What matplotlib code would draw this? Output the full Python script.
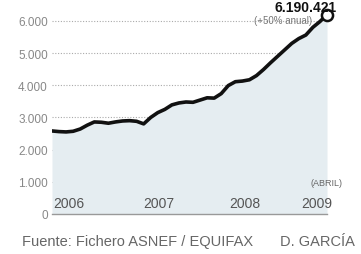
import matplotlib
matplotlib.use("Agg")
import matplotlib.pyplot as plt
from matplotlib.ticker import FuncFormatter

# Monthly values Jan 2006 (0) .. Apr 2009 (39)
months = list(range(40))
values = [2580, 2560, 2550, 2570, 2640, 2760, 2860, 2850, 2820, 2860,
          2890, 2900, 2880, 2800, 3000, 3150, 3250, 3390, 3450, 3480,
          3470, 3540, 3610, 3600, 3740, 3990, 4110, 4130, 4170, 4300,
          4490, 4700, 4900, 5100, 5300, 5450, 5560, 5800, 5980, 6190]
yticks = [0, 1000, 2000, 3000, 4000, 5000, 6000]
year_labels = ["2006", "2007", "2008", "2009"]
year_pos = [0.15, 12.9, 25.2, 35.4]
headline = "6.190.421"
subhead = "(+50% anual)"
end_note = "(ABRIL)"
footer_left = "Fuente: Fichero ASNEF / EQUIFAX"
footer_right = "D. GARCÍA"

plt.rcParams['font.family'] = ["Liberation Sans", "DejaVu Sans"]

W, H = 361, 255
fig = plt.figure(figsize=(W/100, H/100), dpi=100)
ax = fig.add_axes([52/W, 1-215/H, 275/W, 206/H])
ax.set_xlim(0, 39)
ax.set_ylim(0, 6400)

ax.fill_between(months, values, 0, color="#e5edf1", lw=0, zorder=1)
for t in yticks[1:]:
    ax.axhline(t, color="#aaaaaa", lw=0.8, ls=(0, (1, 1.5)), zorder=0.5)
ax.plot(months, values, color="#111111", lw=2.6, solid_joinstyle="round", zorder=3)
ax.plot([months[-1]], [values[-1]], 'o', ms=8, mfc="white", mec="#111111", mew=1.8,
        zorder=4, clip_on=False)

for s in ["top", "right", "left"]:
    ax.spines[s].set_visible(False)
ax.spines["bottom"].set_color("#999999")
ax.spines["bottom"].set_linewidth(1.0)
ax.set_xticks([])
ax.set_yticks(yticks)
ax.yaxis.set_major_formatter(FuncFormatter(lambda v, p: f"{int(v):,}".replace(",", ".")))
ax.tick_params(axis="y", length=0, pad=3, labelsize=8.5, labelcolor="#888888")

for lab, xp in zip(year_labels, year_pos):
    ax.text(xp, 120, lab, ha="left", va="bottom", fontsize=10, color="#555555", zorder=5)
ax.text(41.2, 840, end_note, ha="right", va="bottom", fontsize=6.5, color="#666666",
        zorder=5, clip_on=False)

fig.text(312/W, 1-21/H, subhead, ha="right", va="center", fontsize=7, color="#777777")
fig.text(337/W, 1-0.5/H, headline, ha="right", va="top", fontsize=10,
         fontweight="bold", color="#111111")
fig.text(22/W, 1-242/H, footer_left, ha="left", va="center", fontsize=10.5, color="#666666")
fig.text(280/W, 1-242/H, footer_right, ha="left", va="center", fontsize=10.5, color="#666666")

fig.savefig("out.png", dpi=100)
